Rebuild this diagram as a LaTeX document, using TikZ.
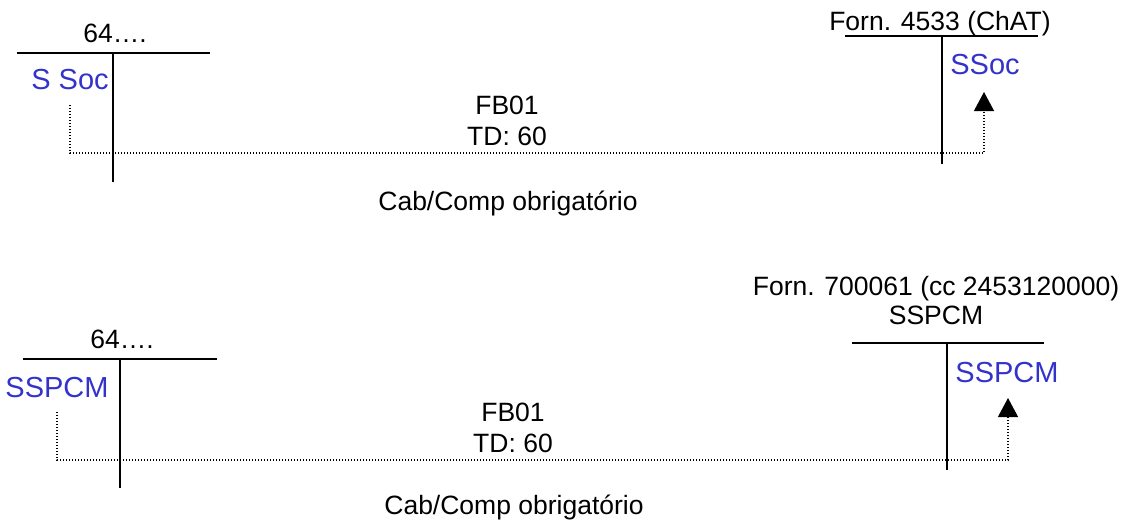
\documentclass[tikz,border=0pt]{standalone}
\usepackage{fontspec}
\setmainfont{Liberation Sans}
\usetikzlibrary{arrows.meta, positioning}
\definecolor{socazul}{RGB}{51,51,204}

\begin{document}
\begin{tikzpicture}[
  x=1pt, y=-1pt,
  conta/.style={line width=1.8pt},
  fluxo/.style={line width=1.2pt, dash pattern=on 1.2pt off 1.8pt,
    -{Triangle[width=20pt, length=19pt]}},
  rotulo/.style={font=\fontsize{26.5}{31}\selectfont, inner sep=0pt, anchor=base, align=center},
  soc/.style={font=\fontsize{29}{33}\selectfont, text=socazul, inner sep=0pt, anchor=base}
]
\useasboundingbox (0,0) rectangle (1138,520);

% Lancamento 1
\node[rotulo] (conta1) at (115,42) {64….};
\node[soc] (socA1) at (70,89) {S Soc};
\node[rotulo] (forn1) at (940,30) {Forn. 4533 (ChAT)};
\node[soc] (socB1) at (985,74) {SSoc};
\node[rotulo] (doc1) at (507,145) {FB01\\TD: 60};
\node[rotulo] (cab1) at (508,210) {Cab/Comp obrigatório};

\draw[conta] (17,53) -- (210,53);
\draw[conta] (113,53) -- (113,182);
\draw[conta] (845,36) -- (1038,36);
\draw[conta] (942,36) -- (942,164);

\coordinate (orig1) at (70,105);
\coordinate (dest1) at (984,92);
\draw[fluxo] (orig1) -- ++(0,48) -| (dest1);

% Lancamento 2
\node[rotulo] (conta2) at (122,348) {64….};
\node[soc] (socA2) at (57,397) {SSPCM};
\node[rotulo, font=\fontsize{26.5}{29}\selectfont] (forn2) at (936,324) {Forn. 700061 (cc 2453120000)\\SSPCM};
\node[soc] (socB2) at (1007,382) {SSPCM};
\node[rotulo] (doc2) at (513,452) {FB01\\TD: 60};
\node[rotulo] (cab2) at (514,514) {Cab/Comp obrigatório};

\draw[conta] (23,359) -- (217,359);
\draw[conta] (120,359) -- (120,488);
\draw[conta] (852,343) -- (1044,343);
\draw[conta] (947,343) -- (947,470);

\coordinate (orig2) at (57,412);
\coordinate (dest2) at (1008,398);
\draw[fluxo] (orig2) -- ++(0,48) -| (dest2);

\end{tikzpicture}
\end{document}
